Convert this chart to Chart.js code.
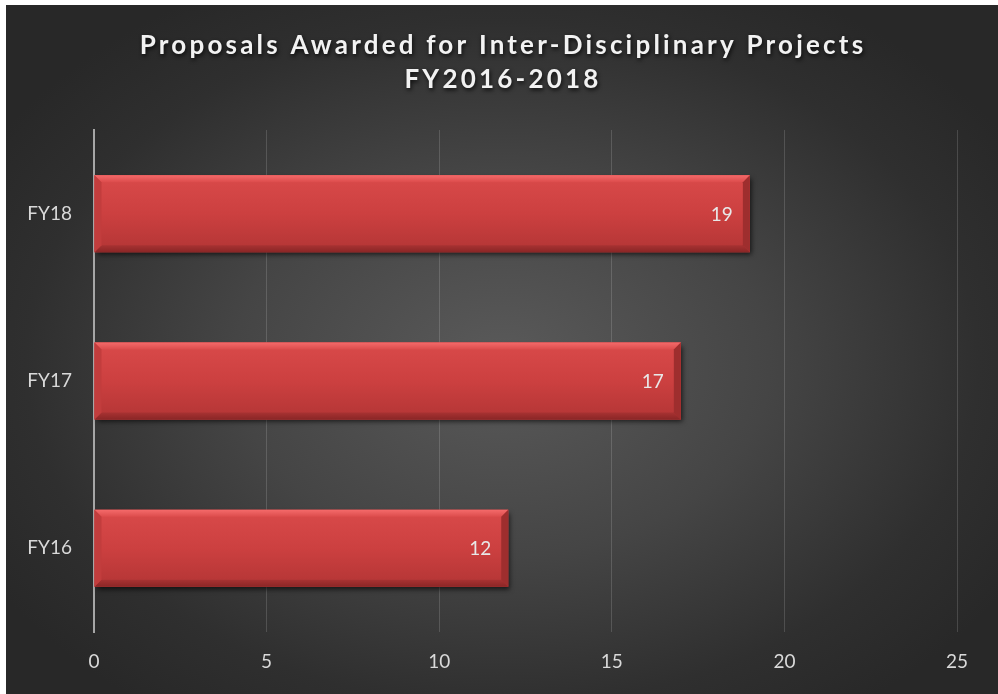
<!DOCTYPE html>
<html>
<head>
<meta charset="utf-8">
<script src="https://cdn.jsdelivr.net/npm/chart.js@4.4.1/dist/chart.umd.min.js"></script>
<style>
  html, body { margin: 0; padding: 0; background: #ffffff; }
  #wrap {
    position: absolute; left: 6px; top: 5px; width: 992px; height: 689px;
    background: radial-gradient(ellipse 60% 62% at 50% 52%, #5a5a5a 0%, #454545 45%, #2f2f2f 80%, #282828 100%);
  }
</style>
</head>
<body>
<div id="wrap"><canvas id="chart"></canvas></div>
<script>
// data
const categories = ['FY18', 'FY17', 'FY16'];
const awarded = [19, 17, 12];
const xTicks = [0, 5, 10, 15, 20, 25];
const titleLines = ['Proposals Awarded for Inter-Disciplinary Projects', 'FY2016-2018'];

// shadow under the bars
const shadowPlugin = {
    id: 'barShadow',
    beforeDatasetsDraw(chart) {
        const ctx = chart.ctx;
        ctx.save();
        ctx.shadowColor = 'rgba(0,0,0,0.65)';
        ctx.shadowBlur = 5;
        ctx.shadowOffsetX = 2;
        ctx.shadowOffsetY = 3;
    },
    afterDatasetsDraw(chart) {
        chart.ctx.restore();
    }
};

// bevel look + value labels
const bevelPlugin = {
    id: 'bevel',
    afterDatasetsDraw(chart) {
        const ctx = chart.ctx;
        const meta = chart.getDatasetMeta(0);
        meta.data.forEach(function(bar, i) {
            const p = bar.getProps(['x', 'y', 'base', 'height'], true);
            const L = p.base, R = p.x;
            const T = p.y - p.height / 2, B = p.y + p.height / 2;
            const b = 7;

            ctx.save();
            // face
            const g = ctx.createLinearGradient(0, T, 0, B);
            g.addColorStop(0, '#d94a4a');
            g.addColorStop(0.5, '#cc4040');
            g.addColorStop(1, '#b33535');
            ctx.fillStyle = g;
            ctx.fillRect(L, T, R - L, B - T);

            function quad(pts, color) {
                ctx.beginPath();
                ctx.moveTo(pts[0][0], pts[0][1]);
                for (let k = 1; k < pts.length; k++) ctx.lineTo(pts[k][0], pts[k][1]);
                ctx.closePath();
                ctx.fillStyle = color;
                ctx.fill();
            }
            const tg = ctx.createLinearGradient(0, T, 0, T + b);
            tg.addColorStop(0, '#f46a6a');
            tg.addColorStop(1, '#dc4c4c');
            quad([[L, T], [R, T], [R - b, T + b], [L + b, T + b]], tg);
            const bg = ctx.createLinearGradient(0, B - b, 0, B);
            bg.addColorStop(0, '#a83232');
            bg.addColorStop(1, '#8a2626');
            quad([[L, B], [R, B], [R - b, B - b], [L + b, B - b]], bg);
            quad([[L, T], [L + b, T + b], [L + b, B - b], [L, B]], '#c23d3d');
            quad([[R, T], [R - b, T + b], [R - b, B - b], [R, B]], '#9e2e2e');
            ctx.restore();

            // value label
            ctx.save();
            ctx.font = '19px Lato';
            ctx.fillStyle = '#e8e8e8';
            ctx.textAlign = 'right';
            ctx.textBaseline = 'middle';
            ctx.fillText(String(awarded[i]), R - 17, p.y + 1);
            ctx.restore();
        });
    }
};

// spaced, shadowed title
const titlePlugin = {
    id: 'spacedTitle',
    afterDraw(chart) {
        const ctx = chart.ctx;
        ctx.save();
        ctx.font = 'bold 26px Lato';
        ctx.letterSpacing = '3.2px';
        ctx.fillStyle = '#f2f2f2';
        ctx.textAlign = 'center';
        ctx.textBaseline = 'middle';
        ctx.shadowColor = 'rgba(0,0,0,0.8)';
        ctx.shadowBlur = 4;
        ctx.shadowOffsetX = 1;
        ctx.shadowOffsetY = 2;
        titleLines.forEach(function(line, i) {
            ctx.fillText(line, chart.width / 2 + 1, 41 + i * 34);
        });
        ctx.restore();
    }
};

const ctx = document.getElementById('chart').getContext('2d');
new Chart(ctx, {
    type: 'bar',
    data: {
        labels: categories,
        datasets: [{
            label: 'Proposals Awarded',
            data: awarded,
            backgroundColor: '#cc4040',
            borderWidth: 0,
            categoryPercentage: 1,
            barPercentage: 0.46
        }]
    },
    options: {
        indexAxis: 'y',
        responsive: true,
        maintainAspectRatio: false,
        animation: false,
        layout: { padding: { top: 125, right: 41, left: 0, bottom: 0 } },
        plugins: {
            legend: { display: false },
            title: { display: false },
            tooltip: { enabled: false }
        },
        scales: {
            x: {
                min: 0,
                max: 25,
                afterBuildTicks: function(scale) {
                    scale.ticks = xTicks.map(function(v) { return { value: v }; });
                },
                afterFit: function(scale) { scale.height = 62; },
                grid: {
                    color: function(c) { return c.index === 0 ? 'rgba(0,0,0,0)' : 'rgba(255,255,255,0.15)'; },
                    lineWidth: 1,
                    drawTicks: false
                },
                border: { display: false },
                ticks: {
                    color: '#d9d9d9',
                    font: { family: 'Lato', size: 19 },
                    padding: 18
                }
            },
            y: {
                afterFit: function(scale) { scale.width = 88; },
                grid: { display: false, drawTicks: false },
                border: { display: true, color: '#a6a6a6', width: 2 },
                ticks: {
                    color: '#d9d9d9',
                    font: { family: 'Lato', size: 19 },
                    padding: 22
                }
            }
        }
    },
    plugins: [shadowPlugin, bevelPlugin, titlePlugin]
});
</script>
</body>
</html>
